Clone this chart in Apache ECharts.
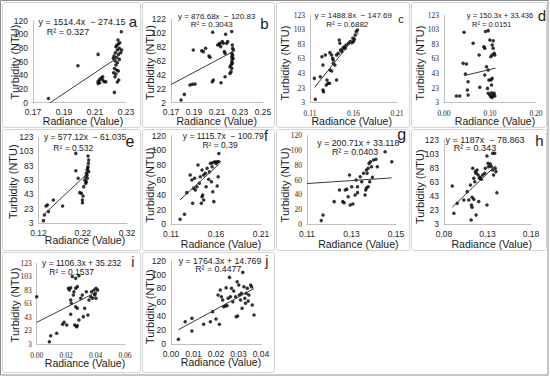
<!DOCTYPE html>
<html><head><meta charset="utf-8">
<script src="https://cdn.jsdelivr.net/npm/echarts@6/dist/echarts.min.js"></script>
<style>html,body{margin:0;padding:0;background:#fff}#c{width:550px;height:379px}</style>
</head><body><div id="c"></div><script>
// ---------- DATA ----------
const panelLetters = ['a','b','c','d','e','f','g','h','i','j'];
const xAxisTitle = 'Radiance (Value)';
const yAxisTitle = 'Turbidity (NTU)';

const pointsA = [[0.180,6.3],[0.199,54],[0.212,70.7],[0.212,31.2],[0.213,34.1],[0.214,36.1],[0.215,38],[0.213,29.3],[0.216,30.7],[0.217,30.7],[0.212,28.3],[0.215,33.2],[0.2225,15.1],[0.227,103.9],[0.226,87.8],[0.225,85.9],[0.224,83.9],[0.2235,82],[0.2257,79.5],[0.2244,77.1],[0.2231,73.2],[0.2266,73.2],[0.2251,70.7],[0.2223,68.3],[0.224,66.3],[0.2257,63.4],[0.2229,61.5],[0.2244,58.5],[0.2235,55.1],[0.2225,50.2],[0.224,47.8],[0.2251,46.3],[0.222,43.9],[0.2235,42],[0.2229,38],[0.2253,33.2],[0.2244,30.2],[0.2272,77],[0.2218,64.9],[0.2248,91.7]];
const pointsB = [[0.1787,5.8],[0.1816,14],[0.1865,27.4],[0.1886,28.4],[0.1909,28.9],[0.1894,77.8],[0.1967,76.9],[0.1981,75.5],[0.2001,80.2],[0.2030,69.2],[0.2039,67.3],[0.2062,103.3],[0.2068,34.6],[0.2059,32.2],[0.2106,85],[0.2117,86],[0.2132,82.7],[0.2126,87.4],[0.2135,30.8],[0.2146,89.9],[0.2155,87.5],[0.2164,75.5],[0.2170,73],[0.2175,100.4],[0.2184,87.4],[0.2193,89.9],[0.2170,39.4],[0.2213,53.8],[0.2222,46.6],[0.2228,104.3],[0.2233,85],[0.2236,80.2],[0.2242,77.8],[0.2228,73],[0.2228,68.2],[0.2233,64.4],[0.2228,61],[0.2233,58.6],[0.2222,56.2],[0.2228,51.4],[0.2213,44.2],[0.2236,70.6],[0.2239,65.8]];
const pointsC = [[0.1161,7.6],[0.1150,36.3],[0.1218,38.6],[0.1237,66],[0.1276,68.3],[0.1249,54.6],[0.1249,20.4],[0.1256,18.1],[0.1295,34],[0.1306,29.5],[0.1325,29.5],[0.1287,27.2],[0.1329,71.5],[0.1348,68.3],[0.1367,61.4],[0.1360,63.7],[0.1329,47.7],[0.1348,46.4],[0.1367,56.9],[0.1386,54.6],[0.1405,34],[0.1424,70.5],[0.1436,88.8],[0.1443,84.3],[0.1451,75.1],[0.1466,72.9],[0.1478,77.4],[0.1493,79.7],[0.1516,82],[0.1543,84.3],[0.1562,86.6],[0.1581,85.2],[0.1600,86.6],[0.1611,89.8],[0.1619,95.7],[0.1630,100.3],[0.1646,102.5],[0.1592,91.1],[0.1505,77.4],[0.1405,68.3]];
const pointsD = [[0.0269,12.1],[0.0342,12.1],[0.0524,13.5],[0.0436,99.3],[0.0415,56.9],[0.0487,56],[0.0465,42.3],[0.0524,31.8],[0.0509,20.4],[0.0633,84.3],[0.0778,24],[0.0764,68.3],[0.0865,79.7],[0.0887,77.4],[0.0902,100.3],[0.0960,101.6],[0.0924,52.3],[0.0960,47.7],[0.0945,22.6],[0.0975,34],[0.1018,34],[0.0960,15.8],[0.0996,13.5],[0.1018,11.2],[0.1047,10.3],[0.1069,13.5],[0.1105,12.1],[0.1033,16.7],[0.1091,15.8],[0.1047,36.3],[0.0996,88.8],[0.1047,82],[0.1069,77.4],[0.1091,70.6],[0.1047,68.3],[0.1105,68.3],[0.1018,66],[0.1069,87.9],[0.1033,27.2],[0.0887,40.9]];
const pointsE = [[0.1312,6.7],[0.1334,14.5],[0.1372,27],[0.1401,28.4],[0.1424,19.2],[0.1536,35.3],[0.1745,27],[0.2043,99.9],[0.2043,75.9],[0.2096,65.3],[0.2133,45.5],[0.2170,44.5],[0.2193,35.3],[0.2193,31.6],[0.2207,40.8],[0.2222,53.8],[0.2245,63],[0.2267,67.6],[0.2282,72.2],[0.2297,76.8],[0.2319,81.5],[0.2327,86.1],[0.2334,90.7],[0.2304,65.3],[0.2282,60.7],[0.2319,96.2],[0.2297,69.9],[0.2267,58.4],[0.2334,74.6],[0.2312,79.2]];
const pointsF = [[0.1201,6.8],[0.1250,13.5],[0.1276,42.9],[0.1313,66.8],[0.1332,60],[0.1340,28.4],[0.1351,48.7],[0.1370,46.5],[0.1388,51],[0.1362,62.3],[0.1400,80.3],[0.1415,55.5],[0.1426,64.5],[0.1445,73.5],[0.1463,66.8],[0.1445,37.4],[0.1463,32.9],[0.1452,39.7],[0.1437,28.4],[0.1482,69],[0.1490,51],[0.1501,75.8],[0.1527,71.3],[0.1538,82.5],[0.1549,57.7],[0.1557,78],[0.1564,44.2],[0.1576,30.7],[0.1587,84.8],[0.1602,82.5],[0.1613,84.8],[0.1632,84.8],[0.1613,51.9],[0.1624,64.5],[0.1632,96],[0.1564,83.4],[0.1519,60.9]];
const pointsG = [[0.1164,5],[0.1172,12.6],[0.1222,30.7],[0.1246,46.5],[0.1261,30.7],[0.1267,29.3],[0.1272,46.5],[0.1279,47.4],[0.1291,66.8],[0.1285,37.4],[0.1294,26.2],[0.1306,27.5],[0.1301,51],[0.1316,39.7],[0.1327,42.9],[0.1321,60],[0.1327,51],[0.1339,64.5],[0.1346,57.7],[0.1354,69],[0.1361,39.7],[0.1364,46.5],[0.1367,73.5],[0.1370,69],[0.1375,75.8],[0.1375,51],[0.1382,57.7],[0.1379,82.5],[0.1385,84.8],[0.1390,78],[0.1394,63.6],[0.1399,87.1],[0.1410,88],[0.1416,78],[0.1451,98.3],[0.1481,84.8],[0.1367,49.2]];
const pointsH = [[0.0895,57.5],[0.0914,18.7],[0.0952,32.9],[0.1028,37.6],[0.1066,49.5],[0.1085,37.6],[0.1104,59],[0.1112,9.2],[0.1115,30.5],[0.1123,27.2],[0.1123,41.4],[0.1142,38.6],[0.1130,82.7],[0.1142,68.5],[0.1154,63.7],[0.1161,78],[0.1169,75.6],[0.1180,80.3],[0.1169,16.3],[0.1192,73.2],[0.1207,68.5],[0.1218,69.9],[0.1199,35.3],[0.1230,67],[0.1245,73.2],[0.1268,75.6],[0.1275,82.7],[0.1294,100.2],[0.1294,30.5],[0.1306,89.8],[0.1313,85.1],[0.1332,88.9],[0.1344,85.1],[0.1359,104],[0.1382,104],[0.1359,80.3],[0.1389,82.7],[0.1408,48],[0.1397,78],[0.1370,73.2]];
const pointsI = [[0.0000,73.4],[0.0086,6.5],[0.0095,15.4],[0.0136,18.9],[0.0176,32.3],[0.0186,35.2],[0.0204,31.3],[0.0231,47.1],[0.0215,85.8],[0.0222,83.3],[0.0231,86.8],[0.0231,68.4],[0.0235,63.5],[0.0242,103.3],[0.0265,100.7],[0.0287,104.6],[0.0249,75.9],[0.0253,80.8],[0.0265,85.8],[0.0276,88.3],[0.0258,31.3],[0.0271,28.8],[0.0276,30.3],[0.0265,58.5],[0.0276,56.1],[0.0287,38.6],[0.0299,70.9],[0.0310,75.9],[0.0317,43.7],[0.0326,56.1],[0.0348,46.2],[0.0355,68.4],[0.0367,73.4],[0.0380,70.9],[0.0373,80.8],[0.0389,83.3],[0.0403,85.8],[0.0394,75.9],[0.0398,78.3],[0.0403,70.9],[0.0414,83.3],[0.0337,80.8]];
const pointsJ = [[0.0033,6.7],[0.0063,32.2],[0.0093,37],[0.0093,18.7],[0.0145,28.3],[0.0175,32.2],[0.0185,46.6],[0.0200,36],[0.0209,70.6],[0.0215,28.3],[0.0219,77.8],[0.0224,68.2],[0.0230,63.4],[0.0234,53.8],[0.0242,55.2],[0.0249,55.2],[0.0245,81.1],[0.0254,65.8],[0.0260,96],[0.0264,68.2],[0.0269,80.2],[0.0275,61],[0.0279,76.3],[0.0287,68.2],[0.0290,39.4],[0.0296,40.3],[0.0294,89.8],[0.0301,85],[0.0304,70.6],[0.0309,63.4],[0.0313,73],[0.0316,51.4],[0.0319,103.2],[0.0324,82.6],[0.0328,65.8],[0.0331,58.6],[0.0334,73],[0.0339,80.2],[0.0343,62],[0.0354,85],[0.0358,82.6],[0.0361,56.2],[0.0369,41.8],[0.0346,70.6]];
const allPoints = [pointsA,pointsB,pointsC,pointsD,pointsE,pointsF,pointsG,pointsH,pointsI,pointsJ];

const slopes = [1514.4, 876.68, 1488.8, 150.3, 577.12, 1115.7, 200.71, 1187, 1106.3, 1764.3];
const intercepts = [-274.15, -120.83, -147.69, 33.436, -61.035, -100.79, 33.118, -78.863, 35.232, 14.769];
const trendStart = [0.181, 0.17, 0.1155, 0.045, 0.131, 0.12, 0.11, 0.0895, 0.0, 0.0033];
const trendEnd   = [0.2245, 0.2255, 0.1655, 0.112, 0.2267, 0.163, 0.148, 0.139, 0.041, 0.0369];
const equations = ['y = 1514.4x  − 274.15','y = 876.68x  − 120.83','y = 1488.8x  − 147.69','y = 150.3x + 33.436','y = 577.12x  − 61.035','y = 1115.7x  − 100.79','y = 200.71x + 33.118','y = 1187x  − 78.863','y = 1106.3x + 35.232','y = 1764.3x + 14.769'];
const rSquared = ['R² = 0.327','R² = 0.3043','R² = 0.6882','R² = 0.0151','R² = 0.532','R² = 0.39','R² = 0.0403','R² = 0.343','R² = 0.1537','R² = 0.4477'];

// axis ranges (tick values) and label decimals
const xMin = [0.17, 0.17, 0.11, 0.00, 0.12, 0.11, 0.11, 0.08, 0.00, 0.00];
const xMax = [0.23, 0.25, 0.21, 0.20, 0.32, 0.21, 0.15, 0.18, 0.06, 0.04];
const xStep = [0.02, 0.02, 0.05, 0.10, 0.10, 0.05, 0.02, 0.05, 0.02, 0.01];
const xDecimals = [2, 2, 2, 2, 2, 2, 2, 2, 2, 2];
const yMin = [0, 2, 3, 3, 3, 0, 0, 3, 3, 0];
const yMax = [120, 122, 123, 123, 123, 120, 120, 123, 123, 120];
const yStep = [20, 20, 20, 20, 20, 20, 20, 20, 20, 20];

// ---------- LAYOUT ----------
const SANS = 'Liberation Sans, Arial, sans-serif';
const SERIF = 'Liberation Serif, Times New Roman, serif';
const layout = [
 {g:[33,20.7,93,82],   sx:false, sy:false, eq:[82,22],    r2:[68,32],     fs:9,  let:[133,21,15],   yt:[15,62],    xt:[83,120.7]},
 {g:[171,19.3,92,83.4],sx:false, sy:false, eq:[216.7,16], r2:[211.7,24.3],fs:8,  let:[264.3,23.3,15],yt:[150,62.5], xt:[216.7,120.7]},
 {g:[310,15,87,87.7],  sx:true,  sy:true,  eq:[353.3,15], r2:[347.3,24.3],fs:8,  let:[401,19.3,11], yt:[285,63],    xt:[351.7,120.7]},
 {g:[444,15,92,87.7],  sx:true,  sy:true,  eq:[500,15],   r2:[491.7,24.3],fs:7.5,let:[542,15,15],   yt:[420,63],    xt:[495,120.7]},
 {g:[38.5,136.7,88.5,86.6],sx:false,sy:false,eq:[85,136.7],r2:[73.3,148.3],fs:8.5,let:[130,141.7,16],yt:[13.3,181.7],xt:[85,240]},
 {g:[171,135.7,90,88.6],sx:false,sy:false, eq:[223.3,135.7],r2:[220,145], fs:8.5,let:[266,135.7,14], yt:[150,185],   xt:[221,244]},
 {g:[307,135.7,89,88.6],sx:false,sy:true,  eq:[358.3,143.3],r2:[355,152.3],fs:8.8,let:[401.7,134,16],yt:[285,185],  xt:[358.3,244]},
 {g:[444,140,87,84.3], sx:false, sy:false, eq:[485,140],   r2:[475,148.3], fs:9,  let:[539.3,140,15],yt:[420,186.7], xt:[491.7,244]},
 {g:[36.7,263.3,88.3,80.7],sx:true,sy:true,eq:[81.7,263.3],r2:[71.7,271.7],fs:8.5,let:[132.7,261.7,14],yt:[15,305],  xt:[85,363.3]},
 {g:[171,260.7,90,83.3],sx:false,sy:false, eq:[220,260.7], r2:[218.3,269.3],fs:8.8,let:[266.7,260.7,14],yt:[150,306.7],xt:[221,362.3]}
];
const cols = [[2,140],[142,274],[276,409],[411,546]];
const rows = [[2,127],[129,250],[252,372]];

const grids=[], xAxes=[], yAxes=[], series=[], graphics=[];
graphics.push({type:'rect', shape:{x:0.5,y:0.5,width:547.5,height:374.5}, style:{fill:'none', stroke:'#8c8c8c', lineWidth:1}, silent:true});
layout.forEach((L,i)=>{
  const c = i%4, r = Math.floor(i/4);
  graphics.push({type:'rect', shape:{x:cols[c][0]+0.5,y:rows[r][0]+0.5,width:cols[c][1]-cols[c][0],height:rows[r][1]-rows[r][0],r:2}, style:{fill:'none', stroke:'#d3d3d3', lineWidth:1}, silent:true});
  grids.push({left:L.g[0], top:L.g[1], width:L.g[2], height:L.g[3], containLabel:false});
  const dx = xDecimals[i];
  xAxes.push({type:'value', gridIndex:i, min:xMin[i], max:xMax[i], interval:xStep[i],
    axisLine:{show:true,onZero:false,lineStyle:{color:'#bfbfbf',width:1}}, axisTick:{show:false}, splitLine:{show:false},
    axisLabel:{show:true, showMinLabel:true, showMaxLabel:true, color:'#262626', fontSize:L.sx?7.5:8.5, fontFamily:L.sx?SERIF:SANS, margin:L.sx?7:5,
      formatter:v=>Number(v).toFixed(dx)}});
  yAxes.push({type:'value', gridIndex:i, min:yMin[i], max:yMax[i], interval:yStep[i],
    axisLine:{show:true,onZero:false,lineStyle:{color:'#bfbfbf',width:1}}, axisTick:{show:false}, splitLine:{show:false},
    axisLabel:{show:true, showMinLabel:true, showMaxLabel:true, color:'#262626', fontSize:L.sy?7.5:8.5, fontFamily:L.sy?SERIF:SANS, margin:5,
      formatter:v=>String(Math.round(v))}});
  series.push({type:'scatter', xAxisIndex:i, yAxisIndex:i, data:allPoints[i], symbol:'circle', symbolSize:3.5,
    itemStyle:{color:'#000'}, silent:true, animation:false});
  const tx = [trendStart[i], trendEnd[i]];
  series.push({type:'line', xAxisIndex:i, yAxisIndex:i, data:tx.map(x=>[x, slopes[i]*x+intercepts[i]]),
    showSymbol:false, symbol:'none', lineStyle:{color:'#3a3a3a', width:1}, silent:true, animation:false, z:3});
  const txt = (x,y,text,size,fam,extra)=>Object.assign({type:'text', x, y, silent:true,
    style:{text, fill:'#1a1a1a', font:size+'px '+fam, textAlign:'center', textVerticalAlign:'middle'}}, extra||{});
  graphics.push(txt(L.eq[0],L.eq[1],equations[i],L.fs,SANS));
  graphics.push(txt(L.r2[0],L.r2[1],rSquared[i],L.fs,SANS));
  graphics.push(txt(L.let[0],L.let[1],panelLetters[i],L.let[2],SANS));
  graphics.push(txt(L.xt[0],L.xt[1],xAxisTitle,10.5,SANS));
  graphics.push(txt(L.yt[0],L.yt[1],yAxisTitle,11,SANS,{rotation:Math.PI/2}));
});

const chart = echarts.init(document.getElementById('c'), null, {renderer:'svg', width:550, height:379});
chart.setOption({animation:false, backgroundColor:'#fff', grid:grids, xAxis:xAxes, yAxis:yAxes, series, graphic:graphics});
</script></body></html>
